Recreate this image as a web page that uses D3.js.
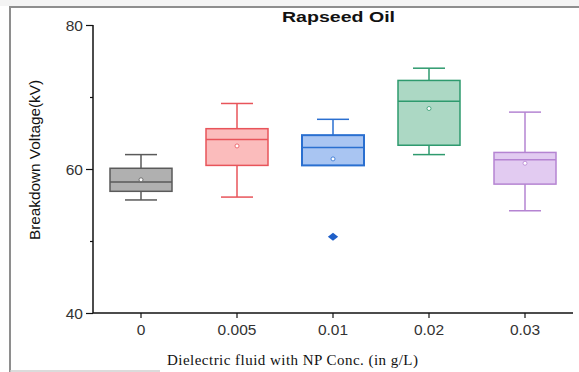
<!DOCTYPE html>
<html><head><meta charset="utf-8">
<script src="https://cdn.jsdelivr.net/npm/d3@7"></script>
<style>body{margin:0;background:#fff}svg{display:block}</style>
</head><body>
<script>
const categories = ["0", "0.005", "0.01", "0.02", "0.03"];
const whiskerLow = [55.7, 56.1, 60.5, 62.0, 54.2];
const q1 = [56.9, 60.5, 60.5, 63.3, 57.9];
const median = [58.2, 64.1, 63.0, 69.4, 61.3];
const q3 = [60.1, 65.6, 64.7, 72.3, 62.3];
const whiskerHigh = [62.0, 69.1, 66.9, 74.0, 67.9];
const mean = [58.5, 63.2, 61.4, 68.4, 60.8];
const outliers = [[], [], [50.6], [], []];
const yTicks = [40, 50, 60, 70, 80];
const yLabels = ["40", "", "60", "", "80"];
const fills = ["#b0b0b0", "#fbbcbc", "#a9c5f2", "#acd8c4", "#e2cbf1"];
const strokes = ["#5a5a5a", "#e8545a", "#2a6fd0", "#2e9a6e", "#b584d2"];

const W = 579, H = 372;
const svg = d3.select("body").append("svg").attr("width", W).attr("height", H);
svg.append("rect").attr("width", W).attr("height", 6).attr("fill", "#f4f4f4");
svg.append("line").attr("x1", 10).attr("x2", W).attr("y1", 7).attr("y2", 7).attr("stroke", "#8e8e8e").attr("stroke-width", 2);
svg.append("line").attr("x1", 10).attr("x2", 10).attr("y1", 6).attr("y2", H).attr("stroke", "#8e8e8e").attr("stroke-width", 2);
svg.append("line").attr("x1", 10).attr("x2", 160).attr("y1", 371).attr("y2", 371).attr("stroke", "#cfcfcf").attr("stroke-width", 1.5);

const x = d3.scaleBand().domain(categories).range([93, 573]).padding(0);
const y = d3.scaleLinear().domain([40, 80]).range([313, 25]);
const bw = 62, cw = 32;
const sans = "Liberation Sans, Arial, sans-serif";

// y axis
const yAxis = d3.axisLeft(y).tickValues(yTicks).tickFormat((d, i) => yLabels[i]).tickSize(7).tickPadding(3);
const gy = svg.append("g").attr("transform", "translate(93,0)").call(yAxis);
gy.select(".domain").attr("stroke", "#111").attr("stroke-width", 1.5).attr("d", `M0,${y(80)}V${y(40)}`);
gy.selectAll(".tick line").attr("stroke", "#111").attr("stroke-width", 1.2)
  .attr("x2", d => (d % 20 === 0 ? -7 : -3));
gy.selectAll(".tick text").attr("font-family", sans).attr("font-size", 15.5).attr("fill", "#333").attr("dy", "0.36em");

// x axis
const xAxis = d3.axisBottom(x).tickSize(5).tickPadding(6);
const gx = svg.append("g").attr("transform", "translate(0,313)").call(xAxis);
gx.select(".domain").attr("stroke", "#111").attr("stroke-width", 1.5).attr("d", "M93,0H573");
gx.selectAll(".tick line").attr("stroke", "#111").attr("stroke-width", 1.2);
gx.selectAll(".tick text").attr("font-family", sans).attr("font-size", 15.5).attr("fill", "#333");

// boxes
categories.forEach((c, i) => {
  const cx = x(c) + x.bandwidth() / 2;
  const g = svg.append("g");
  const sw = i === 2 ? 2 : 1.5;
  g.append("line").attr("x1", cx).attr("x2", cx).attr("y1", y(whiskerHigh[i])).attr("y2", y(q3[i])).attr("stroke", strokes[i]).attr("stroke-width", 1.5);
  g.append("line").attr("x1", cx).attr("x2", cx).attr("y1", y(q1[i])).attr("y2", y(whiskerLow[i])).attr("stroke", strokes[i]).attr("stroke-width", 1.5);
  g.append("line").attr("x1", cx - cw / 2).attr("x2", cx + cw / 2).attr("y1", y(whiskerHigh[i])).attr("y2", y(whiskerHigh[i])).attr("stroke", strokes[i]).attr("stroke-width", 1.5);
  if (whiskerLow[i] < q1[i])
    g.append("line").attr("x1", cx - cw / 2).attr("x2", cx + cw / 2).attr("y1", y(whiskerLow[i])).attr("y2", y(whiskerLow[i])).attr("stroke", strokes[i]).attr("stroke-width", 1.5);
  g.append("rect").attr("x", cx - bw / 2).attr("width", bw).attr("y", y(q3[i])).attr("height", y(q1[i]) - y(q3[i]))
    .attr("fill", fills[i]).attr("stroke", strokes[i]).attr("stroke-width", sw);
  g.append("line").attr("x1", cx - bw / 2).attr("x2", cx + bw / 2).attr("y1", y(median[i])).attr("y2", y(median[i])).attr("stroke", strokes[i]).attr("stroke-width", 1.5);
  g.append("circle").attr("cx", cx).attr("cy", y(mean[i])).attr("r", 2).attr("fill", "#fff").attr("stroke", strokes[i]).attr("stroke-width", 0.8);
  outliers[i].forEach(v => {
    g.append("path").attr("d", d3.symbol(d3.symbolDiamond2, 40)()).attr("transform", `translate(${cx},${y(v)}) scale(1.3,1)`).attr("fill", "#1f5fc8");
  });
});

svg.append("text").attr("x", 282).attr("y", 22).attr("textLength", 113).attr("lengthAdjust", "spacingAndGlyphs")
  .attr("font-family", sans).attr("font-weight", "bold").attr("font-size", 15).attr("fill", "#111").text("Rapseed Oil");
svg.append("text").attr("transform", "translate(40,240) rotate(-90)").attr("textLength", 160).attr("lengthAdjust", "spacingAndGlyphs")
  .attr("font-family", sans).attr("font-size", 15).attr("fill", "#111").text("Breakdown Voltage(kV)");
svg.append("text").attr("x", 167).attr("y", 365).attr("textLength", 251).attr("lengthAdjust", "spacing")
  .attr("font-family", "Liberation Serif, Times New Roman, serif").attr("font-size", 15).attr("fill", "#111").text("Dielectric fluid with NP Conc. (in g/L)");
</script>
</body></html>
